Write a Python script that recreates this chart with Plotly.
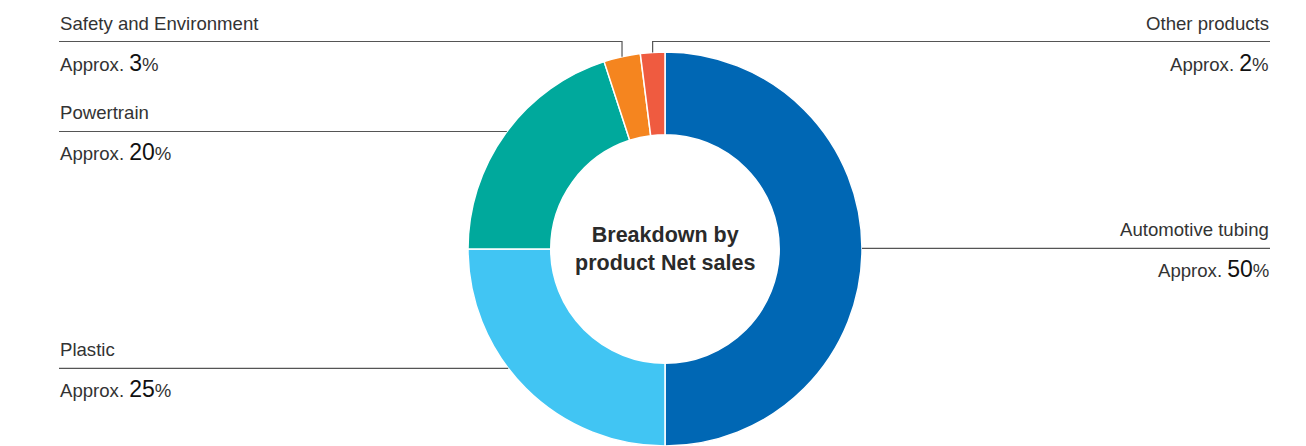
import math
import plotly.graph_objects as go

# ---- data ----
categories = ["Automotive tubing", "Plastic", "Powertrain", "Safety and Environment", "Other products"]
shares = [50, 25, 20, 3, 2]
colors = ["#0067b4", "#41c5f3", "#00a99c", "#f5851f", "#ef5b40"]
center_title = "Breakdown by<br>product Net sales"

# ---- layout constants (pixels) ----
W, H = 1306, 446
CX, CY, R = 665, 249, 197
HOLE = 0.58
LEFT_X, RIGHT_X = 59, 1270
# label line y position and side for each category
label_line_y = {
    "Automotive tubing": 248.3,
    "Plastic": 368.3,
    "Powertrain": 131.5,
    "Safety and Environment": 41.5,
    "Other products": 41.5,
}
label_side = {
    "Automotive tubing": "right",
    "Plastic": "left",
    "Powertrain": "left",
    "Safety and Environment": "left",
    "Other products": "right",
}

FONT = "Liberation Sans, Arial, Helvetica, sans-serif"
TEXT_COL = "#333333"
LINE_COL = "#555555"


def px_x(x):
    return x / W


def px_y(y):
    return 1 - y / H


fig = go.Figure(
    go.Pie(
        labels=categories,
        values=shares,
        sort=False,
        direction="clockwise",
        rotation=0,
        hole=HOLE,
        marker=dict(colors=colors, line=dict(color="white", width=1.5)),
        textinfo="none",
        hoverinfo="label+percent",
        showlegend=False,
        domain=dict(x=[px_x(CX - R), px_x(CX + R)], y=[0, (2 * R) / H]),
    )
)

shapes = []
annotations = []
total = sum(shares)
cum = 0.0
for cat, val in zip(categories, shares):
    mid_frac = (cum + val / 2) / total
    cum += val
    ang = 2 * math.pi * mid_frac  # clockwise from 12 o'clock
    mx = CX + R * math.sin(ang)
    my = CY - R * math.cos(ang)
    side = label_side[cat]
    ly = label_line_y[cat]
    if abs(ly - CY) < R:
        dx = math.sqrt(R * R - (ly - CY) ** 2)
        ax = CX - dx if side == "left" else CX + dx
        pts = [(ax, ly)]
    else:
        pts = [(mx, my), (mx, ly)]
    end_x = LEFT_X if side == "left" else RIGHT_X
    pts.append((end_x, ly))
    path = "M " + " L ".join(f"{px_x(x):.5f},{px_y(y):.5f}" for x, y in pts)
    shapes.append(dict(type="path", path=path, xref="paper", yref="paper",
                       line=dict(color=LINE_COL, width=1.2)))
    xa = side
    annotations.append(dict(
        x=px_x(end_x), y=px_y(ly - 18.5), xref="paper", yref="paper",
        xanchor=xa, yanchor="middle", showarrow=False, borderpad=0,
        text=cat, font=dict(family=FONT, size=18.6, color=TEXT_COL)))
    pct = f"{round(100 * val / total)}"
    annotations.append(dict(
        x=px_x(end_x), y=px_y(ly + 21), xref="paper", yref="paper",
        xanchor=xa, yanchor="middle", showarrow=False, borderpad=0,
        text=f"Approx. <span style='font-size:23px;color:#111111'>{pct}</span>%",
        font=dict(family=FONT, size=18.6, color=TEXT_COL)))

annotations.append(dict(
    x=px_x(CX), y=px_y(CY - 0.5), xref="paper", yref="paper",
    xanchor="center", yanchor="middle", showarrow=False, borderpad=0,
    text=f"<b>{center_title}</b>", align="center",
    font=dict(family=FONT, size=21.5, color="#2a2a2a")))

fig.update_layout(
    width=W, height=H,
    margin=dict(l=0, r=0, t=0, b=0),
    paper_bgcolor="white", plot_bgcolor="white",
    shapes=shapes, annotations=annotations,
)

fig.write_html("out.html")
